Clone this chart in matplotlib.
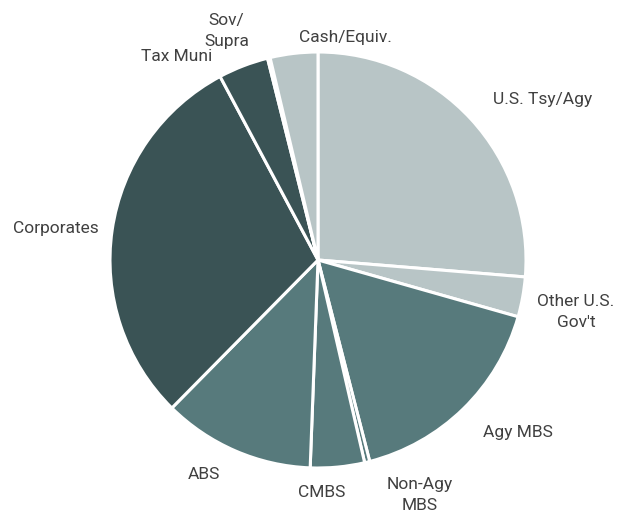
import matplotlib.pyplot as plt

# Sector allocation (%), clockwise from 12 o'clock
labels = ["U.S. Tsy/Agy", "Other U.S.\nGov't", "Agy MBS", "Non-Agy\nMBS", "CMBS",
          "ABS", "Corporates", "Tax Muni", "Sov/\nSupra", "Cash/Equiv."]
values = [26.3, 3.1, 16.6, 0.4, 4.2, 11.8, 29.8, 3.9, 0.2, 3.7]

light = "#b8c5c6"
mid = "#577a7c"
dark = "#3a5355"
colors = [light, light, mid, mid, mid, mid, dark, dark, dark, light]

# label centres in pie units (radius = 1)
label_pos = [(1.08, 0.77), (1.24, -0.25), (0.96, -0.83), (0.49, -1.13), (0.02, -1.12),
             (-0.55, -1.03), (-1.26, 0.15), (-0.68, 0.98), (-0.44, 1.10), (0.13, 1.07)]

plt.rcParams['font.family'] = ['Roboto', 'DejaVu Sans']

fig = plt.figure(figsize=(6.28, 5.13), dpi=100)
ax = fig.add_axes([110 / 628, 45 / 513, 416 / 628, 416 / 513])

wedges, texts = ax.pie(values, labels=labels, colors=colors, startangle=90,
                       counterclock=False, radius=1,
                       wedgeprops=dict(edgecolor="white", linewidth=2.2),
                       textprops=dict(fontsize=12.5, color="#404040"))

for t, (x, y) in zip(texts, label_pos):
    t.set_position((x, y))
    t.set_ha("center")
    t.set_va("center")
    t.set_multialignment("center")
    t.set_linespacing(1.45)
    t.set_clip_on(False)

ax.set_xlim(-1, 1)
ax.set_ylim(-1, 1)
ax.set_aspect("equal")
ax.axis("off")

fig.savefig("out.png", dpi=100)
